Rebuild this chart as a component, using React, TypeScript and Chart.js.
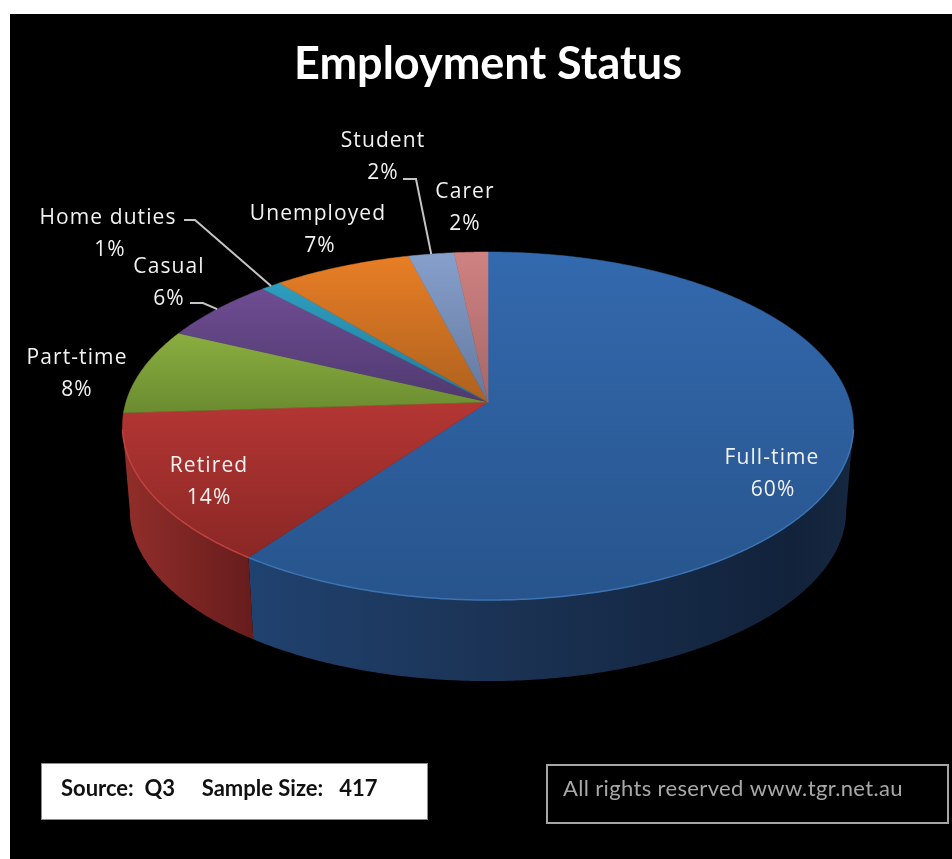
import React, { useEffect, useRef } from "react";
import { Chart, registerables } from "chart.js";

Chart.register(...registerables);

const categories = ["Full-time", "Retired", "Part-time", "Casual", "Home duties", "Unemployed", "Student", "Carer"];
const shares = [60, 14, 8, 6, 1, 7, 2.3, 1.7];
const topColors = ["#3369AE", "#B43633", "#8AAE40", "#6F4C92", "#2E9DBE", "#E87E26", "#86A0CC", "#D08282"];
const bottomColors = ["#27548C", "#8A2725", "#6A8C30", "#4F3A70", "#237C9C", "#AE611E", "#64789E", "#A56666"];
const rimColors = ["#3C73B2", "#BE423D", "#8AAE40", "#6F4C92", "#2E9DBE", "#E87E26", "#86A0CC", "#D08282"];
const sourceText = "Source:  Q3     Sample Size:   417";
const rightsText = "All rights reserved www.tgr.net.au";

// Label layout: centre of the name line; the percentage sits one line below.
const labelAnchors: [number, number, number][] = [
  [772, 458, 773], [209, 466, 209], [77, 358, 77], [169, 267, 169],
  [108, 218, 110], [318, 214, 320], [383, 141, 383], [465, 192, 465],
];
// Elbows of the leader lines, for the slices that have one.
const leaders: Record<number, [number, number, number, number]> = {
  3: [190, 303, 203, 303],
  4: [184, 220, 195, 220],
  6: [403, 179, 416, 179],
};

const TILT = 0.138;
const STRETCH_X = 1.164;
const STRETCH_Y = 0.5489;
const DEPTH = 85;
const SHRINK = 0.98;
const LABEL_FONT = "21px 'Open Sans'";

const pie3d = {
  id: "pie3d",
  beforeDraw(chart: any) {
    const { ctx } = chart;
    ctx.save();
    ctx.fillStyle = "#ffffff";
    ctx.fillRect(0, 0, 952, 859);
    ctx.fillStyle = "#000000";
    ctx.fillRect(10, 14, 942, 845);
    // footer boxes
    ctx.fillStyle = "#ffffff";
    ctx.fillRect(42, 764, 385, 55);
    ctx.strokeStyle = "#8c8c8c";
    ctx.lineWidth = 1;
    ctx.strokeRect(41.5, 763.5, 386, 56);
    ctx.strokeStyle = "#a6a6a6";
    ctx.lineWidth = 2;
    ctx.strokeRect(547, 765, 401, 58);
    ctx.textBaseline = "middle";
    ctx.textAlign = "left";
    ctx.fillStyle = "#111111";
    ctx.font = "bold 22px Lato";
    ctx.fillText(sourceText, 61, 789);
    ctx.fillStyle = "#a8a8a8";
    ctx.font = "22px Lato";
    ctx.letterSpacing = "0.35px";
    ctx.fillText(rightsText, 563, 789);
    ctx.letterSpacing = "0px";
    ctx.restore();
  },
  beforeDatasetsDraw(chart: any) {
    const { ctx } = chart;
    const arcs = chart.getDatasetMeta(0).data as any[];
    const first = arcs[0];
    const cx = first.x;
    const cy = first.y;
    const A = first.outerRadius * STRETCH_X;
    const B = first.outerRadius * STRETCH_Y;
    const top = (a: number): [number, number] => {
      const w = 1 - TILT * Math.sin(a);
      return [cx + (A * Math.cos(a)) / w, cy + (B * Math.sin(a)) / w];
    };
    const low = (a: number): [number, number] => {
      const [x, y] = top(a);
      return [cx + (x - cx) * SHRINK, cy + DEPTH + (y - cy) * SHRINK];
    };
    const samples = (from: number, to: number) => {
      const n = Math.max(2, Math.ceil(Math.abs(to - from) / 0.01));
      return Array.from({ length: n + 1 }, (_, i) => from + ((to - from) * i) / n);
    };
    const lo = Math.asin(TILT);
    const hi = Math.PI - lo;
    ctx.save();
    // side walls
    arcs.forEach((arc, i) => {
      const from = Math.max(arc.startAngle, lo);
      const to = Math.min(arc.endAngle, hi);
      if (to <= from) return;
      const as = samples(from, to);
      const xs = as.map((a) => top(a)[0]);
      const g = ctx.createLinearGradient(Math.min(...xs), 0, Math.max(...xs), 0);
      if (i === 0) {
        g.addColorStop(0, "#20426f");
        g.addColorStop(0.45, "#1a3152");
        g.addColorStop(0.9, "#11223a");
        g.addColorStop(1, "#16283f");
      } else {
        g.addColorStop(0, "#922e2a");
        g.addColorStop(1, "#681d1d");
      }
      ctx.beginPath();
      as.forEach((a, k) => {
        const [x, y] = top(a);
        k ? ctx.lineTo(x, y) : ctx.moveTo(x, y);
      });
      [...as].reverse().forEach((a) => {
        const [x, y] = low(a);
        ctx.lineTo(x, y);
      });
      ctx.closePath();
      ctx.fillStyle = g;
      ctx.fill();
    });
    // top faces
    arcs.forEach((arc, i) => {
      const as = samples(arc.startAngle, arc.endAngle);
      const pts = as.map(top);
      const ys = pts.map((p) => p[1]).concat(cy);
      const g = ctx.createLinearGradient(0, Math.min(...ys), 0, Math.max(...ys));
      g.addColorStop(0, arc.options.backgroundColor);
      g.addColorStop(1, bottomColors[i]);
      ctx.beginPath();
      ctx.moveTo(cx, cy);
      pts.forEach(([x, y]) => ctx.lineTo(x, y));
      ctx.closePath();
      ctx.fillStyle = g;
      ctx.fill();
      ctx.strokeStyle = g;
      ctx.lineWidth = 0.5;
      ctx.stroke();
    });
    // bevel highlight on the front rim
    arcs.forEach((arc, i) => {
      const from = Math.max(arc.startAngle, lo + 0.02);
      const to = Math.min(arc.endAngle, hi - 0.02);
      if (to <= from) return;
      ctx.beginPath();
      samples(from, to).forEach((a, k) => {
        const [x, y] = top(a);
        k ? ctx.lineTo(x, y) : ctx.moveTo(x, y);
      });
      ctx.strokeStyle = rimColors[i];
      ctx.lineWidth = 1.5;
      ctx.stroke();
    });
    // leader lines
    ctx.strokeStyle = "#c4c4c4";
    ctx.lineWidth = 2;
    Object.entries(leaders).forEach(([key, [x0, y0, x1, y1]]) => {
      const arc = arcs[Number(key)];
      const [x2, y2] = top((arc.startAngle + arc.endAngle) / 2);
      ctx.beginPath();
      ctx.moveTo(x0, y0);
      ctx.lineTo(x1, y1);
      ctx.lineTo(x2, y2);
      ctx.stroke();
    });
    // data labels
    ctx.fillStyle = "#f2f2f2";
    ctx.font = LABEL_FONT;
    ctx.letterSpacing = "1.1px";
    ctx.textAlign = "center";
    ctx.textBaseline = "middle";
    categories.forEach((name, i) => {
      const [nx, ny, px] = labelAnchors[i];
      ctx.fillText(name, nx, ny);
      ctx.fillText(`${Math.round(shares[i])}%`, px, ny + 32);
    });
    ctx.letterSpacing = "0px";
    ctx.restore();
    return false;
  },
};

export default function App() {
  const ref = useRef<HTMLCanvasElement>(null);
  useEffect(() => {
    const chart = new Chart(ref.current!, {
      type: "pie",
      data: {
        labels: categories,
        datasets: [{ data: shares, backgroundColor: topColors, borderWidth: 0 }],
      },
      options: {
        responsive: false,
        animation: false,
        layout: { padding: { left: 24, right: 0, top: 0, bottom: 146 } },
        plugins: {
          legend: { display: false },
          tooltip: { enabled: false },
          title: {
            display: true,
            text: "Employment Status",
            color: "#ffffff",
            font: { family: "Lato", size: 45, weight: "bold", lineHeight: 1.2 },
            padding: { top: 37, bottom: 0 },
          },
        },
      },
      plugins: [pie3d],
    } as any);
    return () => chart.destroy();
  }, []);
  return (
    <div style={{ position: "absolute", left: 0, top: 0, width: 952, height: 859, overflow: "hidden" }}>
      <canvas ref={ref} width={952} height={859} style={{ display: "block", width: 952, height: 859, filter: "blur(0.5px)" }} />
    </div>
  );
}
